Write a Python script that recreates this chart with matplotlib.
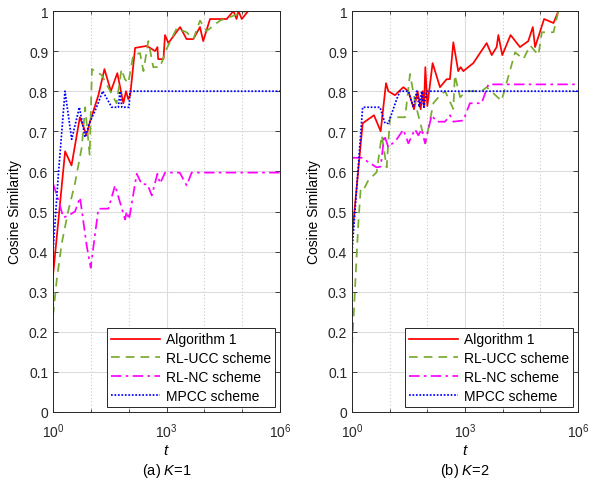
import numpy as np
import matplotlib
matplotlib.use("Agg")
import matplotlib.pyplot as plt
from matplotlib.ticker import FixedLocator, NullFormatter

plt.rcParams['font.family'] = ['Liberation Sans', 'DejaVu Sans']
plt.rcParams['mathtext.fontset'] = 'custom'
plt.rcParams['mathtext.rm'] = 'Liberation Sans'
plt.rcParams['mathtext.it'] = 'Liberation Sans:italic'
plt.rcParams['font.size'] = 10

# ---------------- data (log10 t, cosine similarity) ----------------
# Panel (a) K=1
a_alg_logt = [0, 0.32, 0.49, 0.71, 0.89, 0.98, 1.2, 1.36, 1.53, 1.7, 1.86, 1.93, 1.99, 2.04,
              2.17, 2.48, 2.70, 2.76, 2.78, 2.92, 2.96, 3.05, 3.36, 3.53, 3.71, 3.885, 3.97,
              4.15, 4.59, 4.77, 4.85, 4.90, 4.99, 5.16, 6.0]
a_alg_val = [0.34, 0.65, 0.615, 0.735, 0.69, 0.725, 0.79, 0.855, 0.80, 0.845, 0.77, 0.80, 0.78, 0.79,
             0.908, 0.913, 0.90, 0.91, 0.88, 0.88, 0.94, 0.92, 0.96, 0.93, 0.93, 0.96, 0.925,
             0.98, 0.98, 1.0, 0.98, 1.0, 0.98, 1.0, 1.0]

a_ucc_logt = [0, 0.1, 0.23, 0.4, 0.58, 0.76, 0.85, 0.97, 1.03, 1.29, 1.68, 1.81, 1.9, 1.99,
              2.12, 2.30, 2.39, 2.52, 2.65, 2.83, 3.0, 3.27, 3.53, 3.71, 3.885, 4.06, 4.41,
              5.12, 6.0]
a_ucc_val = [0.24, 0.33, 0.42, 0.5, 0.57, 0.66, 0.76, 0.64, 0.855, 0.84, 0.77, 0.855, 0.83, 0.82,
             0.89, 0.895, 0.85, 0.925, 0.86, 0.86, 0.905, 0.957, 0.947, 0.93, 0.976, 0.95, 0.976,
             1.0, 1.0]

a_nc_logt = [0, 0.115, 0.273, 0.406, 0.582, 0.714, 0.89, 0.996, 1.2, 1.464, 1.64, 1.905, 1.949,
             2.01, 2.213, 2.346, 2.496, 2.61, 2.76, 2.83, 2.963, 3.35, 3.533, 3.665, 6.0]
a_nc_val = [0.57, 0.537, 0.485, 0.49, 0.50, 0.535, 0.415, 0.36, 0.507, 0.507, 0.565, 0.48, 0.50,
            0.48, 0.594, 0.568, 0.568, 0.54, 0.594, 0.57, 0.597, 0.597, 0.565, 0.597, 0.597]

a_mp_logt = [0, 0.14, 0.317, 0.494, 0.697, 0.847, 0.961, 1.138, 1.314, 1.552, 1.728, 1.77, 1.82,
             2.01, 2.037, 6.0]
a_mp_val = [0.40, 0.59, 0.80, 0.68, 0.76, 0.685, 0.72, 0.757, 0.80, 0.76, 0.76, 0.80, 0.76,
            0.76, 0.80, 0.80]

# Panel (b) K=2
b_alg_logt = [0, 0.283, 0.584, 0.761, 0.903, 0.965, 1.14, 1.363, 1.496, 1.646, 1.743, 1.823,
              1.876, 1.91, 1.947, 2.0, 2.14, 2.336, 2.513, 2.60, 2.69, 2.82, 2.885, 2.956, 3.22,
              3.575, 3.71, 3.84, 3.885, 3.99, 4.21, 4.46, 4.68, 4.80, 4.86, 5.10, 5.35, 5.48, 6.0]
b_alg_val = [0.436, 0.72, 0.74, 0.70, 0.82, 0.80, 0.79, 0.81, 0.80, 0.755, 0.80, 0.755,
             0.80, 0.76, 0.86, 0.763, 0.87, 0.81, 0.83, 0.83, 0.922, 0.85, 0.86, 0.85, 0.87,
             0.92, 0.89, 0.91, 0.94, 0.89, 0.94, 0.91, 0.925, 0.96, 0.91, 0.98, 0.97, 1.0, 1.0]

b_ucc_logt = [0, 0.053, 0.106, 0.168, 0.23, 0.30, 0.434, 0.655, 0.79, 0.92, 1.01, 1.41, 1.54,
              1.68, 1.95, 2.16, 2.34, 2.47, 2.69, 2.73, 2.87, 3.04, 3.44, 3.575, 3.97, 4.33,
              4.55, 4.73, 4.95, 5.04, 5.35, 5.48, 6.0]
b_ucc_val = [0.165, 0.257, 0.357, 0.47, 0.556, 0.553, 0.578, 0.598, 0.69, 0.61, 0.735, 0.735, 0.843,
             0.77, 0.67, 0.77, 0.79, 0.80, 0.756, 0.84, 0.785, 0.80, 0.80, 0.81, 0.776, 0.897,
             0.88, 0.914, 0.89, 0.947, 0.947, 1.0, 1.0]

b_nc_logt = [0, 0.257, 0.655, 0.761, 0.858, 0.965, 1.186, 1.363, 1.496, 1.673, 1.76, 1.85, 1.94,
             2.115, 2.248, 2.47, 2.60, 2.69, 2.956, 3.13, 3.44, 3.62, 6.0]
b_nc_val = [0.634, 0.634, 0.61, 0.612, 0.69, 0.66, 0.68, 0.704, 0.67, 0.705, 0.69, 0.705, 0.67,
            0.74, 0.724, 0.724, 0.74, 0.724, 0.727, 0.77, 0.77, 0.817, 0.817]

b_mp_logt = [0, 0.283, 0.743, 0.876, 0.965, 1.186, 1.274, 1.496, 1.628, 1.717, 1.788, 1.85,
             1.91, 1.98, 6.0]
b_mp_val = [0.40, 0.76, 0.76, 0.72, 0.72, 0.78, 0.80, 0.80, 0.76, 0.80, 0.76, 0.80,
            0.76, 0.80, 0.80]

labels = ['Algorithm 1', 'RL-UCC scheme', 'RL-NC scheme', 'MPCC scheme']
captions = ['(a) $K$=1', '(b) $K$=2']
x_ticks = [1e0, 1e3, 1e6]
x_ticklabels = ['$10^0$', '$10^3$', '$10^6$']
y_ticks = [0, 0.1, 0.2, 0.3, 0.4, 0.5, 0.6, 0.7, 0.8, 0.9, 1.0]
y_ticklabels = ['0', '0.1', '0.2', '0.3', '0.4', '0.5', '0.6', '0.7', '0.8', '0.9', '1']

panels = [
    [(a_alg_logt, a_alg_val), (a_ucc_logt, a_ucc_val), (a_nc_logt, a_nc_val), (a_mp_logt, a_mp_val)],
    [(b_alg_logt, b_alg_val), (b_ucc_logt, b_ucc_val), (b_nc_logt, b_nc_val), (b_mp_logt, b_mp_val)],
]

styles = [
    dict(color='#ff0000', linestyle='-', linewidth=1.25),
    dict(color='#77ac30', linestyle=(0, (5, 3.5)), linewidth=1.25),
    dict(color='#ff00ff', linestyle=(0, (6, 2.5, 1.5, 2.5)), linewidth=1.25),
    dict(color='#0000ff', linestyle=(0, (1, 1)), linewidth=1.25),
]

W, H = 592, 481
fig = plt.figure(figsize=(W / 100, H / 100), dpi=100)
axes_px = [(53, 280), (352, 578)]
top_px, bot_px = 12, 413
spine_col = '#262626'

for i, (x0, x1) in enumerate(axes_px):
    ax = fig.add_axes([x0 / W, (H - bot_px) / H, (x1 - x0) / W, (bot_px - top_px) / H])
    for (lt, v), st, lab in zip(panels[i], styles, labels):
        ax.plot(np.power(10.0, lt), v, label=lab, **st)
    ax.set_xscale('log')
    ax.set_xlim(1, 1e6)
    ax.set_ylim(0, 1)
    ax.xaxis.set_major_locator(FixedLocator(x_ticks))
    ax.set_xticklabels(x_ticklabels)
    ax.xaxis.set_minor_locator(FixedLocator([1e1, 1e2, 1e4, 1e5]))
    ax.xaxis.set_minor_formatter(NullFormatter())
    ax.set_yticks(y_ticks)
    ax.set_yticklabels(y_ticklabels)
    ax.grid(True, which='major', axis='both', color='#dcdcdc', linestyle='-', linewidth=0.8)
    ax.grid(True, which='minor', axis='x', color='#c8c8c8', linestyle=(0, (1, 2)), linewidth=0.8)
    ax.set_axisbelow(True)
    ax.tick_params(which='both', direction='in', top=True, right=True, colors=spine_col,
                   labelcolor='#262626', labelsize=10, width=0.6)
    ax.tick_params(which='major', length=3.5)
    ax.tick_params(which='minor', length=2)
    ax.tick_params(axis='x', which='major', pad=7)
    for s in ax.spines.values():
        s.set_color(spine_col)
        s.set_linewidth(0.7)
    ax.set_xlabel('$t$', fontsize=11, labelpad=2)
    ax.set_ylabel('Cosine Similarity', fontsize=10, labelpad=5)
    leg = ax.legend(loc='lower right', fontsize=10, handlelength=3.5, handletextpad=0.45,
                    labelspacing=0.35, borderpad=0.3, borderaxespad=0.35, fancybox=False,
                    framealpha=1, edgecolor='#262626')
    leg.get_frame().set_linewidth(0.7)
    fig.text((x0 + x1) / 2 / W, 1 - 471 / H, captions[i], ha='center', va='center', fontsize=10.5)

fig.savefig('out.png', dpi=100)
